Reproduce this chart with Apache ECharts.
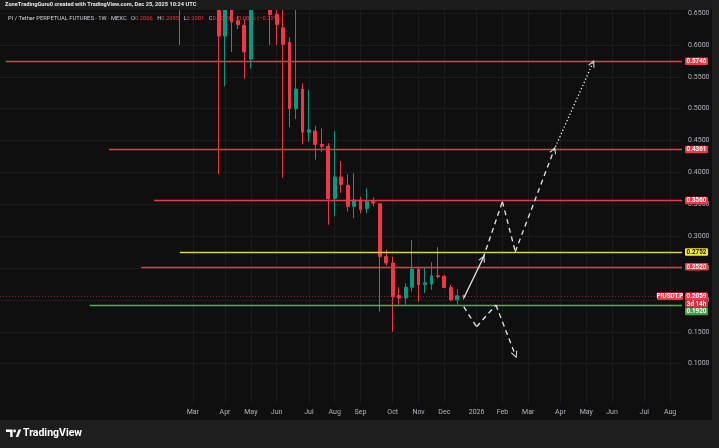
<!DOCTYPE html>
<html><head><meta charset="utf-8">
<script src="https://cdn.jsdelivr.net/npm/echarts@6/dist/echarts.min.js"></script>
<style>html,body{margin:0;padding:0;background:#0f0f0f;}#c{width:719px;height:448px;}</style>
</head><body><div id="c"></div>
<script>
// ---------------- DATA ----------------
// Weekly candles (week start, Monday). Values above ~0.65 are off the visible scale (estimated).
const weeks  = ['2025-02-17','2025-02-24','2025-03-03','2025-03-10','2025-03-17','2025-03-24','2025-03-31','2025-04-07','2025-04-14','2025-04-21','2025-04-28','2025-05-05','2025-05-12','2025-05-19','2025-05-26','2025-06-02','2025-06-09','2025-06-16','2025-06-23','2025-06-30','2025-07-07','2025-07-14','2025-07-21','2025-07-28','2025-08-04','2025-08-11','2025-08-18','2025-08-25','2025-09-01','2025-09-08','2025-09-15','2025-09-22','2025-09-29','2025-10-06','2025-10-13','2025-10-20','2025-10-27','2025-11-03','2025-11-10','2025-11-17','2025-11-24','2025-12-01','2025-12-08','2025-12-15','2025-12-22'];
const opens  = [1.80,1.60,1.80,1.45,1.25,0.95,0.78,0.614,0.71,0.638,0.631,0.578,0.78,0.80,0.74,0.648,0.627,0.604,0.500,0.531,0.463,0.465,0.444,0.441,0.359,0.393,0.380,0.347,0.357,0.343,0.355,0.351,0.268,0.258,0.207,0.203,0.220,0.248,0.224,0.225,0.238,0.237,0.2195,0.2002,0.2066];
const closes = [1.60,1.80,1.45,1.25,0.95,0.78,0.614,0.71,0.636,0.632,0.589,0.78,0.80,0.74,0.648,0.632,0.601,0.500,0.531,0.463,0.467,0.444,0.441,0.359,0.393,0.381,0.347,0.357,0.342,0.355,0.352,0.268,0.258,0.205,0.203,0.220,0.248,0.224,0.227,0.238,0.2365,0.2195,0.2002,0.2066,0.2059];
const lows   = [0.600,1.40,1.20,1.05,0.88,0.74,0.397,0.535,0.589,0.625,0.547,0.563,0.70,0.68,0.600,0.600,0.392,0.471,0.484,0.444,0.448,0.420,0.432,0.318,0.331,0.368,0.339,0.328,0.336,0.336,0.347,0.182,0.254,0.150,0.193,0.192,0.213,0.197,0.211,0.216,0.234,0.219,0.198,0.193,0.2001];
const highs  = [2.10,2.20,1.90,1.60,1.30,1.00,0.80,0.76,0.73,0.646,0.640,0.80,1.67,0.88,0.78,0.655,0.655,0.612,0.680,0.540,0.530,0.473,0.469,0.446,0.465,0.418,0.397,0.399,0.362,0.375,0.361,0.352,0.279,0.268,0.220,0.226,0.294,0.252,0.250,0.259,0.283,0.2395,0.2235,0.217,0.2085];

// Horizontal levels (rays to the right)
const levelPrices = [0.5746, 0.4361, 0.3560, 0.2752, 0.2520, 0.1920];
const levelStarts = ['2024-08-12','2024-12-02','2025-01-20','2025-02-17','2025-01-06','2024-11-11'];
const levelKinds  = ['res','res','res','pivot','res','sup'];

// Time-axis tick labels
const tickWeeks  = ['2025-03-03','2025-04-07','2025-05-05','2025-06-02','2025-07-07','2025-08-04','2025-09-01','2025-10-06','2025-11-03','2025-12-01','2026-01-05','2026-02-02','2026-03-02','2026-04-06','2026-05-04','2026-06-01','2026-07-06','2026-08-03'];
const tickLabels = ['Mar','Apr','May','Jun','Jul','Aug','Sep','Oct','Nov','Dec','2026','Feb','Mar','Apr','May','Jun','Jul','Aug'];
const priceTicks = [0.10,0.15,0.20,0.25,0.30,0.35,0.40,0.45,0.50,0.55,0.60,0.65];

// Projection drawings [week, price]
const bullArrow  = [['2025-12-22',0.2026],['2026-01-12',0.2654]];
const bullPath   = [['2026-01-12',0.2654],['2026-02-02',0.3542],['2026-02-16',0.2757],['2026-03-30',0.4353]];
const bullTarget = [['2026-03-30',0.4353],['2026-05-11',0.5713]];
const bearPath   = [['2025-12-22',0.1894],['2026-01-05',0.1580],['2026-01-26',0.1921],['2026-02-16',0.1137]];

const symbolName = 'PIUSDT.P';
const countdown  = '3d 14h';
const headerText = 'ZoneTradingGuru0 created with TradingView.com, Dec 25, 2025 10:24 UTC';
const titleText  = 'PI / Tether PERPETUAL FUTURES · 1W · MEXC';
const ohlcText   = ['0.2066','0.2085','0.2001','0.2059','−0.0006 (−0.29%)'];

// ---------------- LAYOUT ----------------
const W = 719, H = 448;
const PANE = {left:0, top:10, right:682, bottom:404};
const WEEK = 7*24*3600*1000;
const ms = d => { const a = d.split('-').map(Number); return Date.UTC(a[0], a[1]-1, a[2]); };
const ANCHOR = ms('2025-03-03'), ANCHOR_X = 192.8, PX_WEEK = 6.45;
const xMin = ANCHOR - (ANCHOR_X - PANE.left) / PX_WEEK * WEEK;
const xMax = ANCHOR + (PANE.right - ANCHOR_X) / PX_WEEK * WEEK;
const pxPerUnit = (363.7 - 45) / (0.6 - 0.1);
const yMax = 0.6 + (45 - PANE.top) / pxPerUnit;
const yMin = 0.6 - (PANE.bottom - 45) / pxPerUnit;

const RED = '#f23645', GREEN = '#089981';
const lvlColor = {res:'#e8394b', pivot:'#d6d35a', sup:'#4caf50'};
const badgeColor = {res:'#f23645', pivot:'#f5e93a', sup:'#43a047'};
const badgeText = {res:'#ffffff', pivot:'#131313', sup:'#ffffff'};
const FONT = 'Roboto, "Liberation Sans", sans-serif';

const candleData = weeks.map((w,i)=>[ms(w), opens[i], closes[i], lows[i], highs[i]]);
const tickMs = tickWeeks.map(ms);

const chevron = 'path://M0,10 L5,0 L10,10 L8.4,10 L5,3.2 L1.6,10 Z';
function pathSegments(pts, style, withArrow){
  const segs = [];
  for (let i=0;i<pts.length-1;i++){
    const last = i === pts.length-2;
    segs.push([
      {coord:[ms(pts[i][0]), pts[i][1]], symbol:'none', lineStyle: style},
      {coord:[ms(pts[i+1][0]), pts[i+1][1]], symbol: (last && withArrow) ? chevron : 'none', symbolSize:[7,7]}
    ]);
  }
  return segs;
}
const white = '#e6e6e6';
const solidStyle  = {color:white, width:1.3, type:'solid'};
const dashStyle   = {color:white, width:1.3, type:[5,4]};
const dotStyle    = {color:white, width:1.3, type:[1.3,2.2]};

const lastClose = closes[closes.length-1];
const markData = [];
levelPrices.forEach((p,i)=>{
  markData.push([{coord:[ms(levelStarts[i]), p], symbol:'none', lineStyle:{color:lvlColor[levelKinds[i]], width:1.3, type:'solid'}},
                 {coord:[xMax, p], symbol:'none'}]);
});
markData.push([{coord:[xMin, lastClose], symbol:'none', lineStyle:{color:'rgba(242,54,69,0.55)', width:1, type:[1,2]}},{coord:[xMax, lastClose], symbol:'none'}]);
pathSegments(bullArrow, solidStyle, true).forEach(s=>markData.push(s));
pathSegments(bullPath, dashStyle, true).forEach(s=>markData.push(s));
pathSegments(bullTarget, dotStyle, true).forEach(s=>markData.push(s));
pathSegments(bearPath, dashStyle, true).forEach(s=>markData.push(s));

const chart = echarts.init(document.getElementById('c'), null, {renderer:'canvas'});
chart.setOption({
  animation:false,
  backgroundColor:'#0f0f0f',
  grid:{left:PANE.left, top:PANE.top, right:W-PANE.right, bottom:H-PANE.bottom, containLabel:false},
  xAxis:{
    type:'value', min:xMin, max:xMax,
    axisLine:{show:false},
    axisTick:{show:false, customValues:tickMs},
    axisLabel:{customValues:tickMs, color:'#b2b5be', fontSize:7, fontFamily:FONT, margin:5,
      formatter:(v)=>{ let best=0, bd=Infinity; tickMs.forEach((t,i)=>{const d=Math.abs(t-v); if(d<bd){bd=d;best=i;}}); return tickLabels[best]; }},
    splitLine:{show:true, lineStyle:{color:'#1b1b1b', width:1}}
  },
  yAxis:{
    type:'value', position:'right', min:yMin, max:yMax,
    axisLine:{show:false},
    axisTick:{show:false, customValues:priceTicks},
    axisLabel:{customValues:priceTicks, color:'#b2b5be', fontSize:7, fontFamily:FONT, margin:6, formatter:v=>v.toFixed(4)},
    splitLine:{show:true, lineStyle:{color:'#1b1b1b', width:1}}
  },
  series:[
    {type:'candlestick', data:candleData, barWidth:3.4, clip:true,
     itemStyle:{color:GREEN, color0:RED, borderColor:GREEN, borderColor0:RED, borderWidth:1},
     emphasis:{disabled:true}},
    {type:'line', data:[], silent:true,
     markLine:{silent:true, animation:false, symbol:['none','none'], label:{show:false}, emphasis:{disabled:true}, data:markData}}
  ]
});

// -------- overlays: frames, header, price-axis badges, logo --------
const toY = v => chart.convertToPixel({yAxisIndex:0}, v);
const G = [];
G.push({type:'rect', shape:{x:0,y:0,width:W,height:10}, style:{fill:'#1c1c1c'}, z:90});
G.push({type:'rect', shape:{x:0,y:420,width:W,height:28}, style:{fill:'#1e1e1e'}, z:90});
G.push({type:'rect', shape:{x:712,y:0,width:7,height:H}, style:{fill:'#1e1e1e'}, z:90});
G.push({type:'text', x:5, y:5, z:95, style:{text:headerText, fill:'#e8e8e8', font:'bold 5.7px '+FONT, align:'left', verticalAlign:'middle'}});
const sp = '   ';
G.push({type:'text', x:8, y:18.5, z:0, style:{
  text:'{t|'+titleText+'}'+sp+'{k|O}{v|'+ohlcText[0]+'}'+sp+'{k|H}{v|'+ohlcText[1]+'}'+sp+'{k|L}{v|'+ohlcText[2]+'}'+sp+'{k|C}{v|'+ohlcText[3]+'}'+sp+'{v|'+ohlcText[4]+'}',
  align:'left', verticalAlign:'middle', font:'5.8px '+FONT,
  rich:{t:{fill:'#d1d4dc', font:'5.8px '+FONT}, k:{fill:'#d1d4dc', font:'5.8px '+FONT}, v:{fill:RED, font:'5.8px '+FONT}}}});
// logo
G.push({type:'polygon', shape:{points:[[6,429.5],[12.6,429.5],[12.6,437],[10.2,437],[10.2,432],[6,432]]}, style:{fill:'#ffffff'}, z:95});
G.push({type:'circle', shape:{cx:14.6, cy:431, r:1.4}, style:{fill:'#ffffff'}, z:95});
G.push({type:'polygon', shape:{points:[[15.6,437],[18.6,429.5],[21.2,429.5],[18.2,437]]}, style:{fill:'#ffffff'}, z:95});
G.push({type:'text', x:23, y:433.5, z:95, style:{text:'TradingView', fill:'#ffffff', font:'bold 10.5px '+FONT, align:'left', verticalAlign:'middle'}});

// badges
const BX = 685, BW = 23, BH = 7.6;
const placed = [];
function badge(x, yTop, w, fill, txt, tcol){
  G.push({type:'rect', shape:{x:x, y:yTop, width:w, height:BH, r:1}, style:{fill:fill}, z:100});
  G.push({type:'text', x:x+w/2, y:yTop+BH/2+0.3, z:101, style:{text:txt, fill:tcol, font:'bold 6.3px '+FONT, align:'center', verticalAlign:'middle'}});
}
const yl = toY(lastClose);
const lpTop = yl - BH/2;
badge(BX, lpTop, BW, RED, lastClose.toFixed(4), '#ffffff');
badge(BX, lpTop+BH, BW, '#d32f3f', countdown, '#ffffff');
badge(657, lpTop, 26, RED, symbolName, '#ffffff');
placed.push([lpTop, lpTop+2*BH]);
levelPrices.map((p,i)=>({p, i, y:toY(p)})).sort((a,b)=>a.y-b.y).forEach(o=>{
  let top = o.y - BH/2;
  let moved = true;
  while (moved){
    moved = false;
    for (const r of placed){
      if (top < r[1] && top+BH > r[0]) { top = r[1]; moved = true; }
    }
  }
  placed.push([top, top+BH]);
  const k = levelKinds[o.i];
  badge(BX, top, BW, badgeColor[k], o.p.toFixed(4), badgeText[k]);
});
chart.setOption({graphic:G});
</script></body></html>
